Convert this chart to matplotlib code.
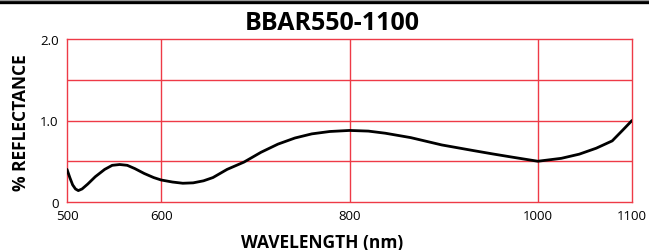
import matplotlib
matplotlib.use("Agg")
import matplotlib.pyplot as plt
from matplotlib.lines import Line2D

plt.rcParams['font.family'] = ['Open Sans', 'DejaVu Sans']

# curve (wavelength nm, % reflectance)
wavelength = [500, 503, 506, 509, 512, 516, 522, 530, 540, 548, 556, 564,
              572, 582, 592, 600, 612, 623, 634, 645, 655, 670, 688, 706,
              724, 742, 760, 779, 800, 820, 838, 865, 898, 932, 952, 973,
              1000, 1025, 1044, 1062, 1079, 1090, 1100]
reflectance = [0.40, 0.30, 0.21, 0.16, 0.14, 0.16, 0.22, 0.31, 0.40, 0.45,
               0.46, 0.45, 0.41, 0.35, 0.30, 0.27, 0.245, 0.23, 0.235, 0.26,
               0.30, 0.40, 0.49, 0.61, 0.71, 0.785, 0.836, 0.865, 0.878,
               0.870, 0.844, 0.79, 0.70, 0.63, 0.59, 0.55, 0.50, 0.536,
               0.587, 0.66, 0.75, 0.88, 1.00]

x_ticks = [500, 600, 800, 1000, 1100]
y_ticks = [0, 1.0, 2.0]
y_tick_labels = ["0", "1.0", "2.0"]
x_grid = [600, 800, 1000]
y_grid = [0.5, 1.0, 1.5]

W, H = 649, 251
fig = plt.figure(figsize=(W / 100, H / 100), dpi=100)
fig.patch.set_facecolor("white")

# plot box in pixels: left 67, right 632, top 40, bottom 203
ax = fig.add_axes([67 / W, (H - 203) / H, 565 / W, 163 / H])
ax.set_xlim(500, 1100)
ax.set_ylim(0, 2.0)

red = "#ee3a47"
for x in x_grid:
    ax.axvline(x, color=red, lw=1.0, zorder=1)
for y in y_grid:
    ax.axhline(y, color=red, lw=1.0, zorder=1)
for s in ax.spines.values():
    s.set_color(red)
    s.set_linewidth(1.0)

ax.plot(wavelength, reflectance, color="black", lw=2.0, zorder=3,
        solid_capstyle="round", solid_joinstyle="round")

ax.set_xticks(x_ticks)
ax.set_xticklabels([str(t) for t in x_ticks])
ax.set_yticks(y_ticks)
ax.set_yticklabels(y_tick_labels)
ax.tick_params(length=0, labelsize=9.5, colors="black")
ax.tick_params(axis="x", pad=5)
ax.tick_params(axis="y", pad=6)

# header rule
fig.add_artist(Line2D([0, 1], [1 - 2.8 / H, 1 - 2.8 / H], color="black",
                      lw=2.4, transform=fig.transFigure))
fig.add_artist(Line2D([0, 1], [1 - 0.6 / H, 1 - 0.6 / H], color="#999999",
                      lw=1.0, transform=fig.transFigure))

fig.text(332 / W, 1 - 23 / H, "BBAR550-1100", ha="center", va="center",
         fontsize=18, fontweight="bold")
fig.text(322 / W, 1 - 243 / H, "WAVELENGTH (nm)", ha="center", va="center",
         fontsize=12.5, fontweight="bold")
fig.text(21 / W, 1 - 123 / H, "% REFLECTANCE", ha="center", va="center",
         rotation=90, fontsize=12.5, fontweight="bold")

fig.savefig("out.png", dpi=100)
